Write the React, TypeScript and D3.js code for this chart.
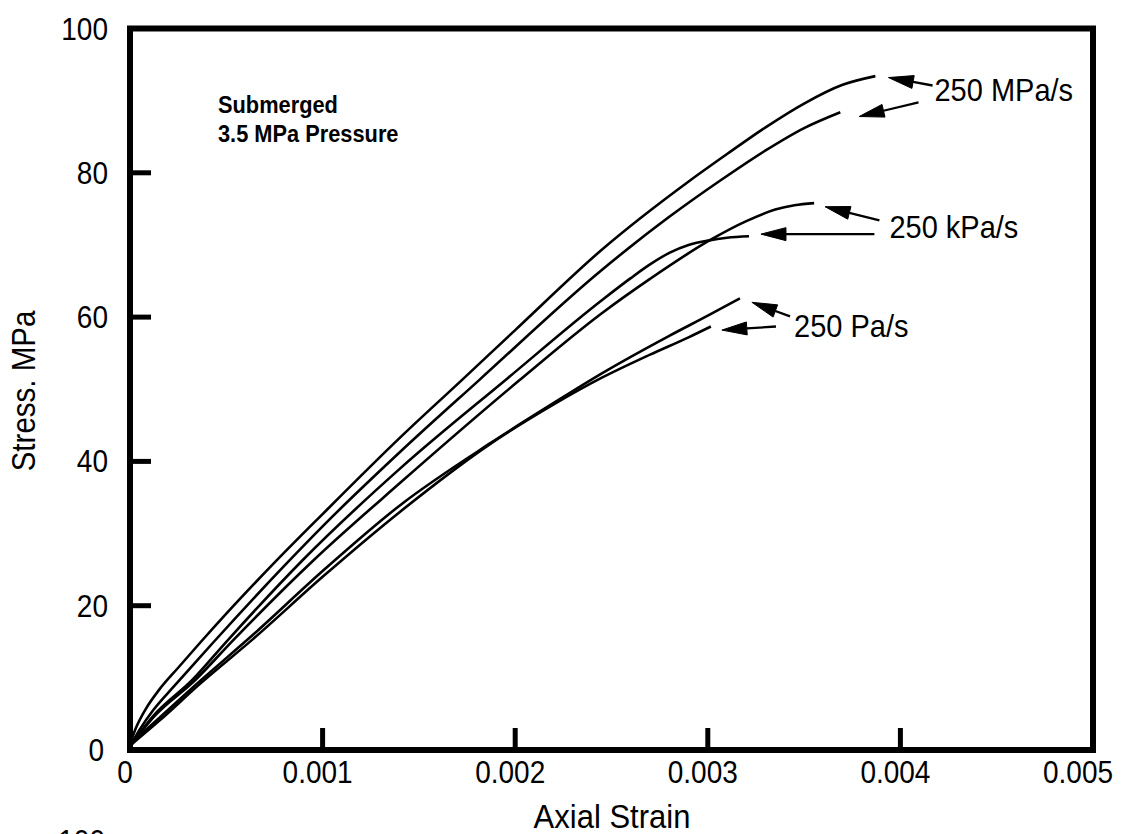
import React from 'react';
import * as d3 from 'd3';

type Pt = [number, number];

const W = 1122;
const H = 834;

// Axis ticks
const xTicks = [0, 0.001, 0.002, 0.003, 0.004, 0.005];
const xTickLabels = ['0', '0.001', '0.002', '0.003', '0.004', '0.005'];
const yTicks = [0, 20, 40, 60, 80, 100];
const yTickLabels = ['0', '20', '40', '60', '80', '100'];

// Curves: [axial strain, stress MPa]
const mpaUpper: Pt[] = [
  [0, 0.8], [0.00003, 3], [0.00008, 5.6], [0.00015, 8.3], [0.00025, 11.4], [0.000365, 14.9],
  [0.0005, 18.9], [0.000755, 26.1], [0.001, 32.7], [0.001406, 43.4], [0.00172, 51.2], [0.002, 58.2],
  [0.002448, 69.3], [0.002906, 78.9], [0.0031, 82.6], [0.0033, 86.3], [0.0035, 89.6], [0.0037, 92.2],
  [0.00387, 93.4],
];
const mpaLower: Pt[] = [
  [0, 0.5], [0.00005, 2.8], [0.00012, 5.5], [0.0002, 8.0], [0.000271, 10.1], [0.000432, 14.9],
  [0.000818, 26.0], [0.001, 31.0], [0.001406, 41.4], [0.00181, 51.2], [0.002448, 66.5], [0.0028, 73.9],
  [0.003063, 78.9], [0.0033, 83.1], [0.0035, 86.2], [0.003688, 88.4],
];
const kpaUpper: Pt[] = [
  [0, 0.5], [0.00012, 4.5], [0.000339, 9.7], [0.000535, 15.2], [0.000953, 26.3], [0.001406, 37.1],
  [0.00202, 51.2], [0.002448, 60.5], [0.0027, 65.3], [0.00302, 70.8], [0.0032, 73.3],
  [0.00335, 74.9], [0.00345, 75.5], [0.003552, 75.8],
];
const kpaLower: Pt[] = [
  [0, 0.5], [0.00012, 4.7], [0.000323, 9.7], [0.0005, 15.0], [0.000896, 26.3], [0.001406, 39.1],
  [0.001964, 51.6], [0.002448, 62.3], [0.0026, 65.4], [0.0027, 67.3], [0.0028, 68.9],
  [0.0029, 70.0], [0.003, 70.6], [0.0031, 71.0], [0.003214, 71.2],
];
const paUpper: Pt[] = [
  [0, 0.8], [0.00015, 4.4], [0.000365, 9.6], [0.00064, 16.0], [0.001, 24.8], [0.001406, 34.0],
  [0.001875, 42.6], [0.0022, 48.1], [0.00245, 52.2], [0.0028, 57.4], [0.003, 60.2], [0.003167, 62.6],
];
const paLower: Pt[] = [
  [0, 0.6], [0.00015, 4.0], [0.000365, 9.2], [0.00064, 15.4], [0.001, 24.0], [0.001406, 33.1],
  [0.001875, 42.5], [0.0022, 47.9], [0.00245, 51.6], [0.0027, 54.8], [0.0029, 57.2], [0.003016, 58.7],
];
const curves: Pt[][] = [mpaUpper, mpaLower, kpaUpper, kpaLower, paUpper, paLower];

// Arrow annotations in data coordinates: tail -> tip
const arrowTails: Pt[] = [
  [0.004167, 92.1], [0.004094, 89.75], [0.003891, 73.4], [0.003865, 71.5], [0.003427, 60.1], [0.003354, 58.7],
];
const arrowTips: Pt[] = [
  [0.003938, 93.2], [0.003786, 87.8], [0.003609, 75.3], [0.003276, 71.5], [0.003229, 62.05], [0.003073, 58.2],
];

// Rate labels (start, baseline) in data coordinates
const rateLabelText = ['250 MPa/s', '250 kPa/s', '250 Pa/s'];
const rateLabelPos: Pt[] = [[0.004177, 90.0], [0.003943, 71.0], [0.003448, 57.2]];

const noteLines = ['Submerged', '3.5 MPa Pressure'];

const FONT = '"Liberation Sans", Arial, Helvetica, sans-serif';
const SY = 1.1;

function T(props: {
  x: number;
  y: number;
  size: number;
  anchor?: string;
  weight?: string;
  rotate?: number;
  children: React.ReactNode;
}) {
  const { x, y, size, anchor = 'start', weight = 'normal', rotate = 0, children } = props;
  const tf = rotate
    ? `translate(${x},${y}) rotate(${rotate}) scale(1,${SY})`
    : `translate(${x},${y}) scale(1,${SY})`;
  return (
    <text
      transform={tf}
      textAnchor={anchor as any}
      fontFamily={FONT}
      fontSize={size}
      fontWeight={weight}
      fill="#000"
    >
      {children}
    </text>
  );
}

export default function App() {
  const x = d3.scaleLinear().domain([0, 0.005]).range([130, 1093]);
  const y = d3.scaleLinear().domain([0, 100]).range([750, 28.5]);
  const line = d3
    .line<Pt>()
    .x((d) => x(d[0]))
    .y((d) => y(d[1]))
    .curve(d3.curveMonotoneX);

  const arrowHead = (tail: Pt, tip: Pt) => {
    const tx = x(tip[0]);
    const ty = y(tip[1]);
    const sx = x(tail[0]);
    const sy = y(tail[1]);
    const dx = sx - tx;
    const dy = sy - ty;
    const len = Math.hypot(dx, dy);
    const ux = dx / len;
    const uy = dy / len;
    const L = 25;
    const hw = 6.5;
    const bx = tx + ux * L;
    const by = ty + uy * L;
    const p1 = [bx - uy * hw, by + ux * hw];
    const p2 = [bx + uy * hw, by - ux * hw];
    return {
      shaft: `M${sx},${sy}L${bx},${by}`,
      head: `M${tx},${ty}L${p1[0]},${p1[1]}L${p2[0]},${p2[1]}Z`,
    };
  };

  return (
    <div style={{ position: 'absolute', left: 0, top: 0 }}>
      <svg width={W} height={H} viewBox={`0 0 ${W} ${H}`} style={{ display: 'block', background: '#fff' }}>
        <rect x={0} y={0} width={W} height={H} fill="#fff" />
        {/* curves */}
        {curves.map((c, i) => (
          <path key={i} d={line(c) || ''} fill="none" stroke="#000" strokeWidth={2.6} />
        ))}
        {/* frame */}
        <rect
          x={x(0)}
          y={y(100)}
          width={x(0.005) - x(0)}
          height={y(0) - y(100)}
          fill="none"
          stroke="#000"
          strokeWidth={6}
        />
        {/* y ticks */}
        {yTicks.slice(1, -1).map((t) => (
          <line key={t} x1={x(0)} x2={x(0) + 21} y1={y(t)} y2={y(t)} stroke="#000" strokeWidth={5} />
        ))}
        {/* x ticks */}
        {xTicks.slice(1, -1).map((t) => (
          <line key={t} x1={x(t)} x2={x(t)} y1={y(0)} y2={y(0) - 22} stroke="#000" strokeWidth={5} />
        ))}
        {/* y tick labels */}
        {yTicks.map((t, i) => (
          <T key={t} x={i === 0 ? 104 : 108} y={y(t) + 11} size={28} anchor="end">
            {yTickLabels[i]}
          </T>
        ))}
        {/* x tick labels */}
        {xTicks.map((t, i) => (
          <T key={t} x={x(t) - (i === xTicks.length - 1 ? 15 : 5)} y={783} size={28} anchor="middle">
            {xTickLabels[i]}
          </T>
        ))}
        {/* axis titles */}
        <T x={612} y={828} size={31} anchor="middle">
          Axial Strain
        </T>
        <T x={35} y={391} size={29.5} anchor="middle" rotate={-90}>
          Stress. MPa
        </T>
        {/* note */}
        {noteLines.map((t, i) => (
          <T key={t} x={218} y={113 + i * 29} size={21.8} weight="bold">
            {t}
          </T>
        ))}
        {/* arrows */}
        {arrowTips.map((tip, i) => {
          const a = arrowHead(arrowTails[i], tip);
          return (
            <g key={i}>
              <path d={a.shaft} stroke="#000" strokeWidth={2.3} fill="none" />
              <path d={a.head} fill="#000" stroke="#000" strokeWidth={1} />
            </g>
          );
        })}
        {/* rate labels */}
        {rateLabelText.map((t, i) => (
          <T key={t} x={x(rateLabelPos[i][0])} y={y(rateLabelPos[i][1])} size={29}>
            {t}
          </T>
        ))}
        {/* partially visible label of the next figure */}
        <T x={105} y={852} size={28} anchor="end">
          100
        </T>
      </svg>
    </div>
  );
}
